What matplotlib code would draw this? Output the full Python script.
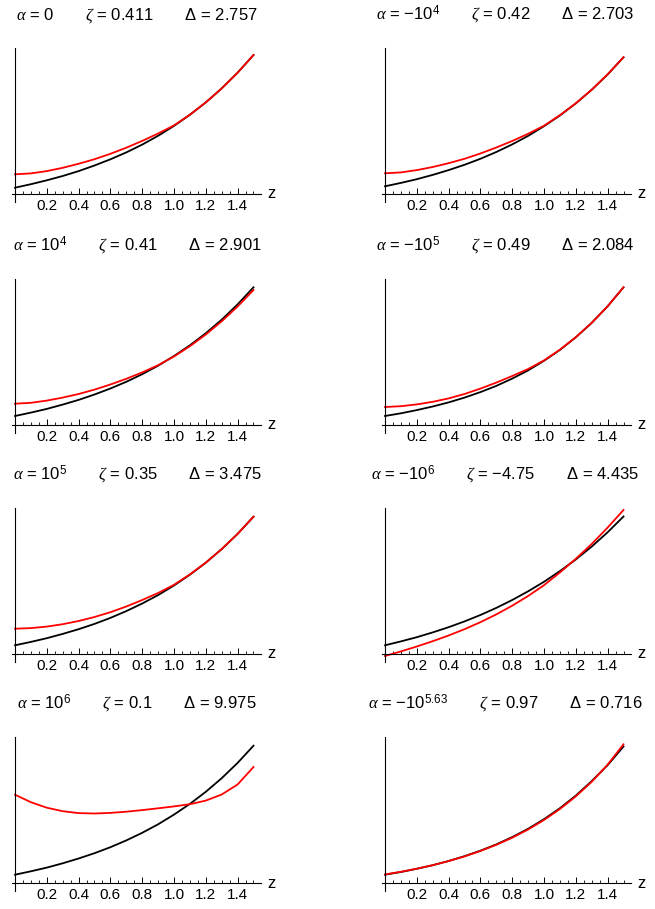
import matplotlib
matplotlib.use("Agg")
import matplotlib.pyplot as plt
from matplotlib.ticker import FixedLocator

plt.rcParams['font.family'] = ['Liberation Sans', 'DejaVu Sans']
plt.rcParams['mathtext.fontset'] = 'custom'
plt.rcParams['mathtext.rm'] = 'Liberation Sans'
plt.rcParams['mathtext.it'] = 'Liberation Serif:italic'
plt.rcParams['mathtext.bf'] = 'Liberation Sans:bold'

# grid of z values shared by every panel
z = [0.0, 0.1, 0.2, 0.3, 0.4, 0.5, 0.6, 0.7, 0.8, 0.9, 1.0, 1.1, 1.2, 1.3, 1.4, 1.5]

# panel labels (row-major order)
alpha_labels = ["0", "$-10^{4}$", "$10^{4}$", "$-10^{5}$",
                "$10^{5}$", "$-10^{6}$", "$10^{6}$", "$-10^{5.63}$"]
zeta_labels = ["0.411", "0.42", "0.41", "0.49", "0.35", "\u22124.75", "0.1", "0.97"]
delta_labels = ["2.757", "2.703", "2.901", "2.084", "3.475", "4.435", "9.975", "0.716"]

# black curves (arbitrary units, axis at 0)
black_1 = [6.3, 9.8, 13.7, 18.0, 22.9, 28.5, 34.7, 41.6, 49.4, 58.2, 68.1, 79.2, 91.6, 105.6, 121.3, 139.0]
black_2 = [7.7, 11.1, 14.8, 19.1, 23.9, 29.2, 35.2, 42.0, 49.6, 58.1, 67.8, 78.5, 90.6, 104.2, 119.5, 136.7]
black_3 = [9.0, 12.4, 16.1, 20.4, 25.1, 30.5, 36.5, 43.2, 50.8, 59.3, 69.0, 79.7, 91.8, 105.3, 120.6, 137.7]
black_4 = [9.0, 11.7, 14.9, 18.5, 22.6, 27.4, 32.9, 39.1, 46.4, 54.6, 64.2, 75.1, 87.7, 102.1, 118.7, 137.7]
black_5 = [8.7, 12.1, 15.8, 20.1, 24.8, 30.1, 36.1, 42.9, 50.5, 58.9, 68.5, 79.3, 91.3, 104.9, 120.1, 137.3]
black_6 = [8.7, 12.6, 16.8, 21.6, 26.8, 32.6, 39.0, 46.1, 54.0, 62.7, 72.2, 82.9, 94.5, 107.4, 121.7, 137.5]
black_7 = [8.3, 11.7, 15.4, 19.7, 24.5, 29.8, 35.8, 42.6, 50.2, 58.7, 68.4, 79.1, 91.2, 104.8, 120.1, 137.3]
black_8 = [8.3, 11.0, 14.2, 17.8, 22.0, 26.8, 32.3, 38.6, 45.9, 54.2, 63.8, 74.8, 87.4, 101.9, 117.8, 136.5]

# red curves
red_1 = [19.7, 20.6, 22.9, 26.2, 30.2, 34.8, 40.2, 46.3, 53.1, 60.5, 68.6, 79.3, 91.6, 105.6, 121.3, 139.0]
red_2 = [20.7, 21.6, 23.9, 27.0, 30.8, 35.2, 40.5, 46.5, 53.0, 60.2, 68.3, 78.8, 90.7, 104.3, 119.6, 136.8]
red_3 = [21.3, 22.2, 24.4, 27.4, 31.0, 35.4, 40.5, 46.2, 52.6, 59.8, 68.5, 78.8, 90.5, 103.7, 118.5, 135.0]
red_4 = [18.0, 18.8, 20.6, 23.2, 26.6, 31.0, 36.4, 42.4, 49.0, 56.0, 64.6, 75.3, 87.8, 102.2, 118.7, 137.7]
red_5 = [25.3, 25.9, 27.4, 29.8, 33.0, 37.0, 41.8, 47.5, 54.0, 61.0, 69.2, 79.6, 91.4, 104.9, 120.1, 137.3]
red_6 = [-2.0, 2.6, 7.5, 12.8, 18.5, 24.8, 31.8, 39.6, 48.3, 58.0, 68.8, 81.5, 95.2, 110.0, 126.4, 144.0]
red_7 = [88.3, 80.8, 75.3, 71.8, 69.9, 69.5, 70.1, 71.3, 72.9, 74.7, 76.6, 78.8, 82.4, 88.5, 98.5, 116.0]
red_8 = [8.6, 11.2, 14.3, 17.8, 21.9, 26.6, 32.0, 38.2, 45.3, 53.5, 63.0, 74.0, 86.6, 101.2, 118.3, 138.7]

blacks = [black_1, black_2, black_3, black_4, black_5, black_6, black_7, black_8]
reds = [red_1, red_2, red_3, red_4, red_5, red_6, red_7, red_8]

W, H = 655, 909
fig = plt.figure(figsize=(W / 100, H / 100), dpi=100)

px_per_unit = 159
xlo, xhi = -0.02, 1.545
ylo, yhi = -8, 146
axis_x = [15, 385]             # pixel x of the vertical axis in each column
axis_y = [194, 425, 654, 883]  # pixel y of the horizontal axis in each row
title_x = [137, 505]

major = [0.2, 0.4, 0.6, 0.8, 1.0, 1.2, 1.4]
minor = [i * 0.05 for i in range(1, 31)]

for i in range(8):
    row, col = divmod(i, 2)
    left = axis_x[col] + xlo * px_per_unit
    width = (xhi - xlo) * px_per_unit
    ax = fig.add_axes([left / W, 1 - (axis_y[row] - ylo) / H, width / W, (yhi - ylo) / H])
    ax.plot(z, blacks[i], color='black', lw=1.3)
    ax.plot(z, reds[i], color='#ff0000', lw=1.3)
    ax.set_xlim(xlo, xhi)
    ax.set_ylim(ylo, yhi)
    for s in ['top', 'right']:
        ax.spines[s].set_visible(False)
    ax.spines['left'].set_position(('data', 0))
    ax.spines['bottom'].set_position(('data', 0))
    ax.spines['left'].set_linewidth(0.8)
    ax.spines['bottom'].set_linewidth(0.8)
    ax.set_yticks([])
    ax.xaxis.set_major_locator(FixedLocator(major))
    ax.xaxis.set_minor_locator(FixedLocator(minor))
    ax.set_xticklabels(["%.1f" % v for v in major], fontsize=11)
    ax.tick_params(axis='x', which='major', direction='in', length=4, width=0.7, pad=3.5)
    ax.tick_params(axis='x', which='minor', direction='in', length=2, width=0.6)
    ax.annotate('z', xy=(1, 0), xycoords=ax.get_yaxis_transform(), xytext=(5, 0),
                textcoords='offset points', ha='left', va='center', fontsize=12)

    sp = " " * 7
    title = ("$\\alpha$ = " + alpha_labels[i] + sp + "$\\zeta$ = " + zeta_labels[i]
             + sp + "$\\Delta$ = " + delta_labels[i])
    fig.text(title_x[col] / W, 1 - (axis_y[row] - 174) / H, title,
             ha='center', va='baseline', fontsize=12)

fig.savefig("out.png", dpi=100)
